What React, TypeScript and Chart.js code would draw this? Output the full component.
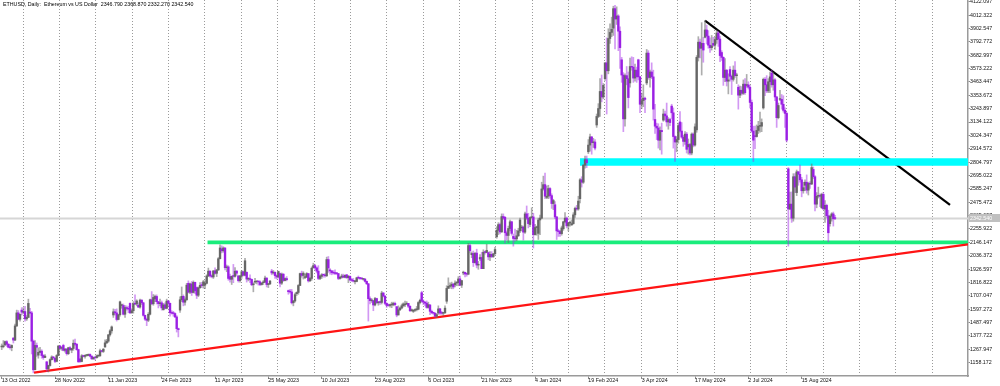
import React, { useEffect, useRef } from "react";
import { Chart, registerables } from "chart.js";

Chart.register(...registerables);

// ETHUSD daily (weekday bars), 13 Oct 2022 .. 12 Sep 2024
const opens = [
  // Oct 2022
  1288,1290,1305,1331,1310,1285,1282,1360,1344,1460,1567,1515,1590,
  // Nov 2022
  1573,1578,1518,1530,1570,1567,1335,1100,1300,1220,1243,1253,1217,1201,1165,1108,1135,1183,1205,1194,1169,1217,
  // Dec 2022
  1295,1276,1300,1260,1270,1232,1281,1262,1275,1318,1310,1266,1188,1168,1215,1210,1218,1218,1226,1212,1190,1201,
  // Jan 2023
  1200,1214,1214,1256,1251,1287,1321,1335,1387,1420,1550,1576,1567,1513,1552,1628,1628,1556,1611,1603,1645,1568,
  // Feb 2023
  1585,1642,1640,1630,1615,1672,1650,1547,1515,1507,1556,1675,1642,1682,1702,1659,1643,1650,1593,1633,
  // Mar 2023
  1605,1664,1646,1565,1564,1562,1534,1438,1590,1675,1703,1655,1675,1810,1737,1805,1735,1818,1775,1712,1773,1793,1792,
  // Apr 2023
  1795,1810,1870,1910,1872,1862,1912,1892,1920,2012,2093,2077,2100,1938,1945,1865,1843,1868,1867,1910,
  // May 2023
  1870,1832,1870,1905,1876,1900,1845,1848,1842,1798,1820,1823,1823,1822,1800,1815,1820,1853,1800,1805,1910,1895,1900,
  // Jun 2023
  1873,1862,1890,1811,1885,1833,1849,1750,1741,1739,1650,1665,1725,1735,1792,1890,1875,1858,1860,1890,1830,1850,
  // Jul 2023
  1937,1955,1937,1910,1850,1867,1880,1878,1872,2005,1920,1912,1897,1895,1891,1890,1850,1860,1870,1860,1880,
  // Aug 2023
  1856,1868,1838,1834,1823,1825,1855,1853,1850,1843,1845,1826,1806,1684,1667,1668,1632,1685,1650,1657,1653,1730,1705,
  // Sep 2023
  1645,1635,1628,1633,1633,1645,1618,1550,1593,1607,1626,1633,1640,1645,1622,1585,1580,1588,1594,1597,1652,
  // Oct 2023
  1733,1663,1655,1647,1612,1632,1580,1568,1565,1540,1566,1600,1566,1564,1567,1663,1768,1785,1788,1803,1797,1812,
  // Nov 2023
  1815,1846,1795,1895,1900,1887,1885,2120,2045,2055,1980,2058,1960,2010,2022,1930,2065,2063,2062,2027,2048,2030,
  // Dec 2023
  2052,2192,2245,2292,2232,2358,2353,2225,2203,2260,2315,2195,2178,2175,2200,2240,2265,2272,2230,2380,2345,
  // Jan 2024
  2293,2350,2355,2210,2268,2220,2330,2345,2585,2620,2515,2525,2588,2530,2465,2455,2355,2240,2235,2218,2258,2315,2345,
  // Feb 2024
  2282,2305,2290,2300,2372,2425,2420,2505,2660,2640,2780,2825,2890,2945,3012,2965,2970,3110,3180,3245,3385,
  // Mar 2024
  3340,3490,3620,3555,3820,3870,3905,4065,3980,4005,3880,3645,3520,3160,3515,3490,3455,3590,3585,3495,3560,
  // Apr 2024
  3645,3505,3280,3310,3330,3455,3700,3500,3545,3505,3155,3100,3085,2985,3065,3150,3200,3185,3135,3155,3265,3210,
  // May 2024
  3015,2970,2990,3135,3060,3010,2975,3035,2930,2950,2880,3035,2945,3070,3665,3790,3740,3780,3830,3890,3840,3765,3745,
  // Jun 2024
  3780,3765,3810,3865,3815,3705,3665,3500,3560,3470,3565,3510,3485,3560,3515,3420,3355,3395,3370,3445,
  // Jul 2024
  3435,3440,3420,3295,3060,3020,3015,3065,3100,3100,3250,3485,3440,3390,3465,3535,3440,3480,3340,3170,3320,3320,3280,
  // Aug 2024
  3230,3205,2750,2420,2460,2345,2685,2555,2725,2705,2660,2570,2615,2640,2575,2630,2625,2745,2685,2460,2525,2530,
  // Sep 2024
  2430,2540,2420,2450,2365,2300,2360,2380,2346.79,
];

const highs = [
  1312,1340,1335,1340,1315,1310,1305,1365,1475,1590,1586,1560,1610,
  1610,1620,1545,1680,1605,1580,1345,1340,1320,1280,1285,1265,1225,1225,1170,1138,1190,1215,1210,1200,1225,1300,
  1300,1290,1310,1275,1275,1285,1290,1275,1345,1352,1315,1270,1195,1225,1220,1222,1225,1230,1232,1215,1205,1203,
  1222,1220,1270,1258,1275,1345,1350,1390,1430,1460,1600,1597,1600,1557,1665,1640,1640,1628,1625,1620,1650,1600,
  1660,1715,1675,1650,1680,1675,1655,1550,1525,1570,1680,1742,1718,1713,1715,1662,1680,1665,1645,1650,
  1680,1670,1648,1585,1580,1567,1545,1442,1700,1780,1715,1690,1810,1830,1812,1825,1830,1820,1780,1780,1815,1818,1834,
  1830,1880,1935,1912,1880,1915,1938,1925,2022,2125,2118,2110,2102,1960,1955,1885,1870,1965,1940,1915,
  1875,1875,1915,1910,2015,1905,1855,1880,1845,1815,1850,1830,1830,1830,1818,1833,1870,1855,1810,1835,1925,1915,1905,
  1880,1910,1895,1895,1890,1855,1865,1755,1760,1760,1670,1730,1740,1800,1895,1910,1905,1885,1898,1890,1860,1945,
  1975,1965,1945,1955,1877,1890,1885,1890,2025,2030,1930,1915,1915,1920,1898,1892,1865,1885,1885,1880,1882,
  1875,1870,1850,1850,1835,1860,1870,1858,1852,1850,1848,1830,1810,1700,1685,1670,1695,1688,1662,1665,1745,1735,1710,
  1650,1640,1640,1655,1655,1655,1620,1625,1615,1640,1650,1665,1660,1645,1625,1600,1595,1600,1620,1660,1680,
  1745,1675,1660,1665,1655,1635,1590,1574,1568,1562,1625,1605,1580,1572,1625,1790,1855,1813,1820,1810,1830,1825,
  1865,1870,1835,1910,1903,1895,2138,2135,2068,2075,2060,2090,1990,2045,2065,2085,2075,2130,2068,2070,2070,2055,
  2105,2275,2308,2305,2380,2380,2355,2240,2280,2330,2320,2215,2255,2245,2262,2345,2285,2280,2395,2445,2385,
  2355,2430,2385,2295,2280,2345,2370,2640,2690,2715,2610,2615,2595,2545,2500,2480,2360,2255,2245,2280,2320,2390,2355,
  2310,2320,2330,2390,2435,2450,2525,2670,2685,2785,2855,2855,2990,3035,3015,3000,2990,3200,3285,3490,3520,
  3450,3620,3825,3900,3940,3995,4085,4092,4080,4015,3915,3665,3540,3530,3590,3545,3660,3670,3665,3610,3585,
  3650,3510,3370,3440,3340,3730,3720,3560,3620,3560,3280,3125,3120,3095,3125,3240,3225,3290,3170,3165,3280,3250,
  3020,3015,3125,3220,3130,3025,3055,3050,2995,2960,3045,3045,3120,3680,3835,3815,3950,3830,3970,3930,3885,3825,3845,
  3830,3830,3890,3880,3840,3720,3670,3655,3565,3530,3590,3520,3595,3630,3535,3440,3430,3425,3480,3490,
  3525,3465,3435,3315,3100,3100,3110,3140,3215,3160,3495,3500,3515,3490,3545,3560,3540,3490,3345,3290,3395,3360,3350,
  3250,3215,2760,2560,2560,2710,2710,2740,2730,2780,2680,2640,2660,2700,2640,2645,2790,2765,2695,2555,2600,2545,
  2550,2555,2490,2460,2410,2370,2390,2395,2368.87,
];

const lows = [
  1265,1280,1298,1292,1280,1270,1256,1320,1340,1455,1510,1500,1550,
  1560,1500,1505,1527,1560,1230,1075,1100,1210,1195,1240,1195,1185,1200,1088,1082,1130,1180,1185,1158,1165,1215,
  1265,1260,1255,1245,1220,1225,1260,1240,1260,1300,1260,1160,1160,1165,1205,1195,1212,1215,1205,1185,1185,1180,
  1195,1205,1212,1245,1242,1285,1315,1325,1375,1400,1530,1550,1500,1510,1540,1605,1550,1530,1590,1568,1560,1564,
  1565,1635,1625,1610,1605,1635,1540,1505,1462,1495,1550,1635,1630,1660,1640,1608,1625,1590,1590,1600,
  1600,1620,1540,1557,1540,1528,1410,1370,1570,1660,1625,1630,1670,1730,1725,1710,1730,1725,1685,1700,1770,1775,1770,
  1765,1805,1865,1860,1855,1850,1885,1865,1915,2010,2060,2065,1920,1905,1835,1820,1800,1815,1860,1875,
  1820,1820,1850,1870,1870,1820,1830,1815,1790,1740,1810,1805,1795,1790,1795,1800,1815,1780,1775,1800,1880,1885,1850,
  1845,1855,1780,1800,1825,1830,1830,1720,1730,1640,1625,1655,1710,1720,1790,1860,1845,1848,1858,1820,1825,1835,
  1935,1925,1895,1840,1840,1850,1860,1860,1865,1900,1885,1880,1885,1880,1880,1840,1845,1852,1855,1855,1850,
  1815,1830,1825,1820,1805,1822,1845,1842,1840,1835,1820,1800,1500,1640,1653,1585,1625,1645,1630,1637,1640,1698,1635,
  1612,1620,1615,1610,1625,1625,1535,1550,1585,1600,1615,1618,1635,1610,1578,1580,1570,1580,1583,1592,1640,
  1655,1635,1625,1605,1605,1552,1560,1555,1532,1530,1555,1554,1555,1545,1565,1645,1770,1770,1765,1765,1780,1790,
  1790,1790,1775,1880,1862,1868,1880,2060,2020,1948,1975,1937,1925,1995,1930,1930,2050,2060,2003,1995,2020,2022,
  2050,2180,2210,2215,2228,2335,2140,2165,2145,2240,2205,2115,2155,2160,2195,2225,2240,2165,2220,2335,2265,
  2275,2345,2100,2205,2205,2170,2210,2340,2575,2505,2505,2505,2510,2425,2415,2340,2170,2195,2195,2205,2245,2305,2265,
  2240,2280,2285,2295,2350,2410,2410,2470,2600,2630,2755,2760,2875,2895,2870,2925,2905,3090,3170,3180,3300,
  3325,3475,3200,3530,3780,3835,3845,3735,3935,3720,3575,3460,3055,3100,3440,3250,3420,3560,3460,3470,3460,
  3480,3210,3245,3260,3210,3440,3485,3420,3490,3150,3040,2990,2920,2905,2870,3140,3150,3100,3075,3105,3160,2920,
  2810,2890,2960,3050,3000,2935,2950,2880,2870,2865,2865,2930,2935,3050,3635,3660,3520,3625,3825,3775,3740,3705,3725,
  3755,3730,3780,3755,3630,3640,3435,3465,3430,3365,3470,3360,3470,3500,3450,3240,3335,3355,3360,3360,
  3420,3405,3250,3050,2810,2915,3010,3040,3050,3055,3240,3350,3375,3375,3375,3420,3395,3310,3090,3160,3310,3240,3215,
  3090,2970,2115,2415,2310,2320,2555,2530,2615,2640,2520,2550,2570,2550,2535,2590,2620,2670,2405,2430,2510,2440,
  2425,2420,2310,2350,2150,2280,2320,2280,2332.27,
];

const closes = [
  1290,1296,1331,1310,1285,1282,1300,1344,1460,1567,1515,1555,1573,
  1578,1518,1530,1645,1567,1335,1100,1300,1285,1243,1253,1217,1201,1212,1108,1135,1183,1205,1198,1169,1217,1295,
  1276,1280,1260,1270,1232,1281,1265,1275,1318,1310,1266,1166,1168,1215,1210,1218,1220,1226,1212,1190,1201,1199,
  1214,1214,1256,1251,1269,1321,1335,1387,1420,1452,1576,1567,1513,1552,1658,1628,1556,1611,1603,1598,1568,1585,
  1642,1640,1665,1615,1672,1650,1547,1516,1507,1556,1675,1642,1694,1702,1659,1643,1650,1608,1633,1605,
  1664,1646,1569,1564,1562,1534,1438,1430,1675,1703,1655,1675,1795,1737,1805,1735,1818,1750,1712,1773,1793,1792,1822,
  1810,1870,1910,1872,1865,1912,1892,1920,2012,2100,2077,2100,1938,1945,1850,1843,1868,1867,1910,1893,
  1832,1870,1905,1876,1995,1845,1848,1842,1798,1805,1823,1823,1822,1800,1810,1820,1853,1800,1805,1828,1895,1900,1873,
  1862,1907,1811,1885,1833,1849,1840,1741,1739,1650,1665,1717,1735,1792,1890,1875,1893,1860,1890,1830,1850,1934,
  1955,1937,1910,1850,1870,1880,1878,1872,2005,1936,1912,1897,1895,1891,1890,1850,1860,1870,1860,1875,1856,
  1868,1838,1834,1828,1825,1855,1853,1850,1848,1845,1826,1806,1684,1668,1668,1632,1685,1650,1656,1653,1730,1705,1645,
  1628,1628,1633,1633,1645,1635,1550,1593,1607,1626,1641,1640,1645,1622,1585,1593,1588,1594,1597,1652,1671,
  1663,1655,1647,1612,1635,1580,1568,1565,1540,1553,1600,1566,1564,1567,1606,1768,1785,1788,1803,1780,1812,1815,
  1846,1795,1832,1900,1887,1885,2120,2078,2055,1980,2058,1960,1962,2022,1930,2065,2063,2081,2027,2048,2030,2052,
  2087,2245,2292,2232,2358,2345,2225,2203,2260,2315,2220,2178,2175,2200,2240,2330,2272,2230,2380,2345,2300,
  2350,2355,2210,2268,2270,2330,2345,2585,2620,2525,2525,2588,2530,2465,2490,2355,2240,2235,2218,2265,2315,2345,2282,
  2305,2308,2300,2372,2425,2420,2485,2660,2640,2780,2825,2800,2945,3012,2965,2970,2920,3180,3245,3385,3340,
  3435,3620,3555,3820,3870,3895,4065,3980,4005,3880,3745,3520,3160,3515,3490,3335,3590,3585,3495,3560,3505,
  3505,3280,3310,3330,3320,3700,3500,3545,3505,3240,3100,3085,2985,3065,3055,3200,3185,3135,3155,3130,3210,3015,
  2970,2990,3105,3060,3010,2975,3035,2910,2950,2880,3035,2945,3095,3665,3790,3740,3780,3725,3890,3840,3765,3745,3760,
  3765,3810,3865,3815,3680,3665,3500,3560,3470,3480,3510,3485,3560,3515,3515,3355,3395,3370,3445,3375,
  3440,3420,3295,3060,2985,3015,3065,3100,3100,3130,3485,3440,3390,3465,3505,3440,3480,3340,3170,3270,3320,3280,3230,
  3205,2985,2420,2460,2345,2685,2600,2725,2705,2660,2570,2595,2640,2575,2630,2625,2760,2685,2460,2525,2530,2525,
  2540,2420,2450,2365,2225,2360,2380,2340,2342.54,
];

// Time axis labels (bar index of each label and its text)
const timeTickBars = [0, 32, 64, 96, 128, 160, 192, 224, 256, 288, 320, 352, 384, 416, 448, 480];
const timeTickLabels = [
  "13 Oct 2022", "28 Nov 2022", "11 Jan 2023", "24 Feb 2023", "11 Apr 2023", "25 May 2023",
  "10 Jul 2023", "23 Aug 2023", "6 Oct 2023", "21 Nov 2023", "4 Jan 2024", "19 Feb 2024",
  "3 Apr 2024", "17 May 2024", "2 Jul 2024", "15 Aug 2024",
];

// Price axis labels
const priceTicks = [
  1158.172, 1267.947, 1377.722, 1487.497, 1597.272, 1707.047, 1816.822, 1926.597, 2036.372,
  2146.147, 2255.922, 2365.697, 2475.472, 2585.247, 2695.022, 2804.797, 2914.572, 3024.347,
  3134.122, 3243.897, 3353.672, 3463.447, 3573.222, 3682.997, 3792.772, 3902.547, 4012.322, 4122.097,
];

// Drawn objects: [barIndex, price] anchors
const redTrend = [[19.4, 1076], [579.8, 2130]];
const greenLevel = [[123.5, 2146], [579.8, 2146]];
const cyanLevel = [[347, 2806], [579.8, 2806]];
const blackTrend = [[422, 3966], [569, 2453]];

const titleText = "ETHUSD, Daily:  Ethereum vs US Dollar  2346.790 2368.870 2332.270 2342.540";

const X_MIN = -1.02;
const X_MAX = 579.8;
const Y_MIN = 1048.97;
const Y_MAX = 4136.05;
const GRID_START = 12.6;
const GRID_STEP = 21.816;
const AXIS_W = 32;
const AXIS_H = 10;
const FONT = '"Liberation Sans", Arial, sans-serif';

export default function App() {
  const ref = useRef<HTMLCanvasElement>(null);

  useEffect(() => {
    if (!ref.current) return;
    const n = Math.min(opens.length, highs.length, lows.length, closes.length);
    const idx = Array.from({ length: n }, (_, i) => i);
    const isUp = (i: number) => closes[i] >= opens[i];
    const lastClose = closes[n - 1];
    const toPts = (a: number[][]) => a.map(([x, y]) => ({ x, y }));

    const mtPlugin = {
      id: "mtDecor",
      beforeDatasetsDraw(chart: any) {
        const { ctx, chartArea, scales } = chart;
        ctx.save();
        ctx.strokeStyle = "#9a9a9a";
        ctx.lineWidth = 1;
        ctx.setLineDash([1, 2]);
        for (let b = GRID_START; b < X_MAX - 1; b += GRID_STEP) {
          const px = Math.round(scales.x.getPixelForValue(b)) + 0.5;
          ctx.beginPath();
          ctx.moveTo(px, chartArea.top);
          ctx.lineTo(px, chartArea.bottom);
          ctx.stroke();
        }
        ctx.restore();
      },
      afterDraw(chart: any) {
        const { ctx, chartArea, scales } = chart;
        ctx.save();
        const py = scales.y.getPixelForValue(lastClose);
        ctx.fillStyle = "#c0c0c0";
        ctx.fillRect(chartArea.right + 1, Math.round(py) - 4, 31, 8);
        ctx.fillStyle = "#ffffff";
        ctx.font = `5.3px ${FONT}`;
        ctx.textBaseline = "middle";
        ctx.textAlign = "left";
        ctx.fillText(lastClose.toFixed(3), chartArea.right + 2, py);
        ctx.fillStyle = "#000000";
        ctx.fillText(titleText, 3, 5);
        ctx.restore();
      },
    };

    const chart = new Chart(ref.current, {
      type: "bar",
      data: {
        datasets: [
          {
            type: "line",
            data: [{ x: X_MIN, y: lastClose }, { x: X_MAX, y: lastClose }],
            borderColor: "#d6d6d6",
            borderWidth: 2,
            pointRadius: 0,
            pointHoverRadius: 0,
            order: 10,
          } as any,
          {
            type: "line",
            data: toPts(redTrend),
            borderColor: "#ff1414",
            borderWidth: 2.3,
            pointRadius: 0,
            pointHoverRadius: 0,
            order: 8,
          } as any,
          {
            type: "line",
            data: toPts(greenLevel),
            borderColor: "#1aed7c",
            borderWidth: 3.6,
            pointRadius: 0,
            pointHoverRadius: 0,
            order: 8,
          } as any,
          {
            type: "line",
            data: toPts(cyanLevel),
            borderColor: "#00ffff",
            borderWidth: 7.5,
            pointRadius: 0,
            pointHoverRadius: 0,
            order: 8,
          } as any,
          {
            type: "line",
            data: toPts(blackTrend),
            borderColor: "#000000",
            borderWidth: 2.2,
            pointRadius: 0,
            pointHoverRadius: 0,
            order: 8,
          } as any,
          {
            type: "bar",
            data: idx.map((i) => ({ x: i, y: [lows[i], highs[i]] })),
            backgroundColor: (c: any) =>
              isUp(c.dataIndex) ? "rgba(105,105,105,0.55)" : "rgba(165,50,232,0.5)",
            barThickness: 1,
            grouped: false,
            borderWidth: 0,
            order: 3,
          } as any,
          {
            type: "bar",
            data: idx.map((i) => ({ x: i, y: [opens[i], closes[i]] })),
            backgroundColor: (c: any) => (isUp(c.dataIndex) ? "#666666" : "#9a1fe4"),
            barThickness: 1.7,
            minBarLength: 0.8,
            grouped: false,
            borderWidth: 0,
            order: 2,
          } as any,
        ],
      },
      options: {
        responsive: false,
        animation: false,
        devicePixelRatio: 1,
        events: [],
        layout: { padding: 0, autoPadding: false },
        plugins: { legend: { display: false }, tooltip: { enabled: false }, title: { display: false } },
        scales: {
          x: {
            type: "linear",
            position: "bottom",
            offset: false,
            min: X_MIN,
            max: X_MAX,
            afterBuildTicks: (s: any) => {
              s.ticks = timeTickBars.map((v) => ({ value: v }));
            },
            afterFit: (s: any) => {
              s.height = AXIS_H;
              s.paddingLeft = 0;
              s.paddingRight = 0;
            },
            ticks: {
              autoSkip: false,
              maxRotation: 0,
              minRotation: 0,
              align: "start",
              padding: -1.5,
              color: "#111111",
              font: { size: 5.3, family: FONT },
              callback: (_v: any, i: number) => timeTickLabels[i] ?? "",
            },
            grid: { offset: false, drawOnChartArea: false, drawTicks: true, tickLength: 3, color: "#8a8a8a" },
            border: { display: true, color: "#9a9a9a", width: 1.5 },
          },
          y: {
            type: "linear",
            position: "right",
            min: Y_MIN,
            max: Y_MAX,
            afterBuildTicks: (s: any) => {
              s.ticks = priceTicks.map((v) => ({ value: v }));
            },
            afterFit: (s: any) => {
              s.width = AXIS_W;
              s.paddingTop = 0;
              s.paddingBottom = 0;
            },
            ticks: {
              autoSkip: false,
              padding: 0,
              color: "#111111",
              font: { size: 5.3, family: FONT },
              callback: (v: any) => Number(v).toFixed(3),
            },
            grid: { drawOnChartArea: false, drawTicks: true, tickLength: 2, color: "#8a8a8a" },
            border: { display: true, color: "#9a9a9a", width: 1.5 },
          },
        },
      } as any,
      plugins: [mtPlugin],
    });

    // make sure the plot area spans 0..(1000-AXIS_W) x 0..(386-AXIS_H)
    const ca = chart.chartArea;
    const dl = ca.left;
    const dr = 1000 - AXIS_W - ca.right;
    const dt = ca.top;
    const db = 386 - AXIS_H - ca.bottom;
    if (Math.abs(dl) > 0.5 || Math.abs(dr) > 0.5 || Math.abs(dt) > 0.5 || Math.abs(db) > 0.5) {
      (chart.options as any).layout.padding = { left: -dl, right: -dr, top: -dt, bottom: -db };
      chart.update();
    }

    return () => chart.destroy();
  }, []);

  return (
    <div style={{ position: "absolute", left: 0, top: 0, width: 1000, height: 386, background: "#ffffff" }}>
      <canvas ref={ref} width={1000} height={386} style={{ display: "block" }} />
    </div>
  );
}
